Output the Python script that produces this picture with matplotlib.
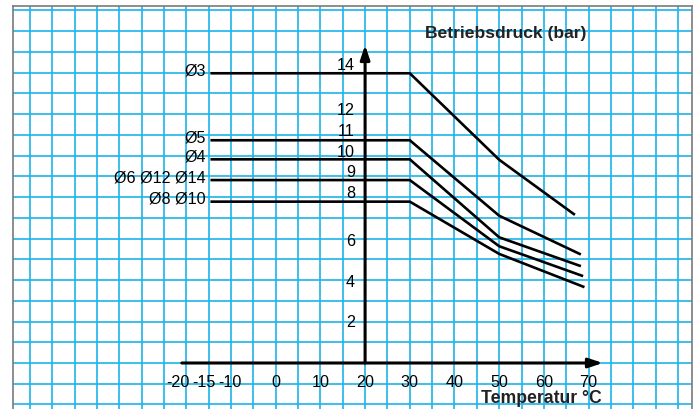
import numpy as np
import matplotlib
matplotlib.use("Agg")
import matplotlib.pyplot as plt

plt.rcParams['font.family'] = ['Liberation Sans', 'DejaVu Sans']

# pressure curves (temperature in °C, pressure in bar)
diam_labels = ['Ø3', 'Ø5', 'Ø4', 'Ø6 Ø12 Ø14', 'Ø8 Ø10']
temps = [
    [-14.3, 30, 50, 66.7],
    [-14.3, 30, 50, 68.0],
    [-14.3, 30, 50, 68.0],
    [-14.3, 30, 50, 68.5],
    [-14.3, 30, 50, 68.8],
]
pressures = [
    [13.97, 13.97, 9.80, 7.18],
    [10.74, 10.74, 7.10, 5.26],
    [9.82, 9.82, 6.06, 4.69],
    [8.82, 8.82, 5.63, 4.21],
    [7.78, 7.78, 5.26, 3.68],
]

# axis labels as drawn on the chart
x_tick_text = ['-20', '-15', '-10', '0', '10', '20', '30', '40', '50', '60', '70']
x_tick_pos = [-21.8, -16.0, -10.3, 0, 10, 20, 30, 40, 50, 60, 70]
y_tick_text = ['14', '12', '11', '10', '9', '8', '6', '4', '2']
y_tick_pos = [14.40, 12.2, 11.19, 10.19, 9.21, 8.20, 5.90, 3.91, 1.99]

fig = plt.figure(figsize=(6.98, 4.10), dpi=100)
ax = fig.add_axes([13.3 / 698, 0, (692.3 - 13.3) / 698, 1 - 7.3 / 410])
ax.set_xlim(-58.7, 93.2)
ax.set_ylim(-2.218, 17.199)

# graph paper
ax.set_xticks(np.arange(-55, 95, 5))
ax.set_yticks(np.arange(-2, 18, 1))
ax.tick_params(length=0, labelbottom=False, labelleft=False)
ax.grid(True, color='#1cb4ea', lw=1.2)
for s in ['top', 'left', 'right']:
    ax.spines[s].set_color('#7a7a7a')
    ax.spines[s].set_linewidth(1.2)
ax.spines['bottom'].set_visible(False)

# axes with arrows
arrow = dict(arrowstyle='-|>,head_length=0.6,head_width=0.2', lw=2.2, color='black',
             mutation_scale=14, shrinkA=0, shrinkB=0)
ax.annotate('', xy=(73.2, 0), xytext=(-21, 0), arrowprops=arrow)
ax.annotate('', xy=(20, 15.33), xytext=(20, 0), arrowprops=arrow)

for lab, t, p in zip(diam_labels, temps, pressures):
    ax.plot(t, p, color='black', lw=1.9, solid_joinstyle='miter')
    ax.text(-15.6, p[0] + 0.17, lab, ha='right', va='center', fontsize=11.6)

for lab, x in zip(x_tick_text, x_tick_pos):
    ax.text(x, -0.89, lab, ha='center', va='center', fontsize=11.6)
for lab, y in zip(y_tick_text, y_tick_pos):
    ax.text(17.74, y, lab, ha='right', va='center', fontsize=11.6)

ax.text(51.5, 15.95, 'Betriebsdruck (bar)', ha='center', va='center',
        fontsize=12.6, fontweight='bold', color='#222222')
ax.text(59.5, -1.64, 'Temperatur °C', ha='center', va='center',
        fontsize=12.7, fontweight='bold', color='#222222')

fig.savefig('out.png', dpi=100)
